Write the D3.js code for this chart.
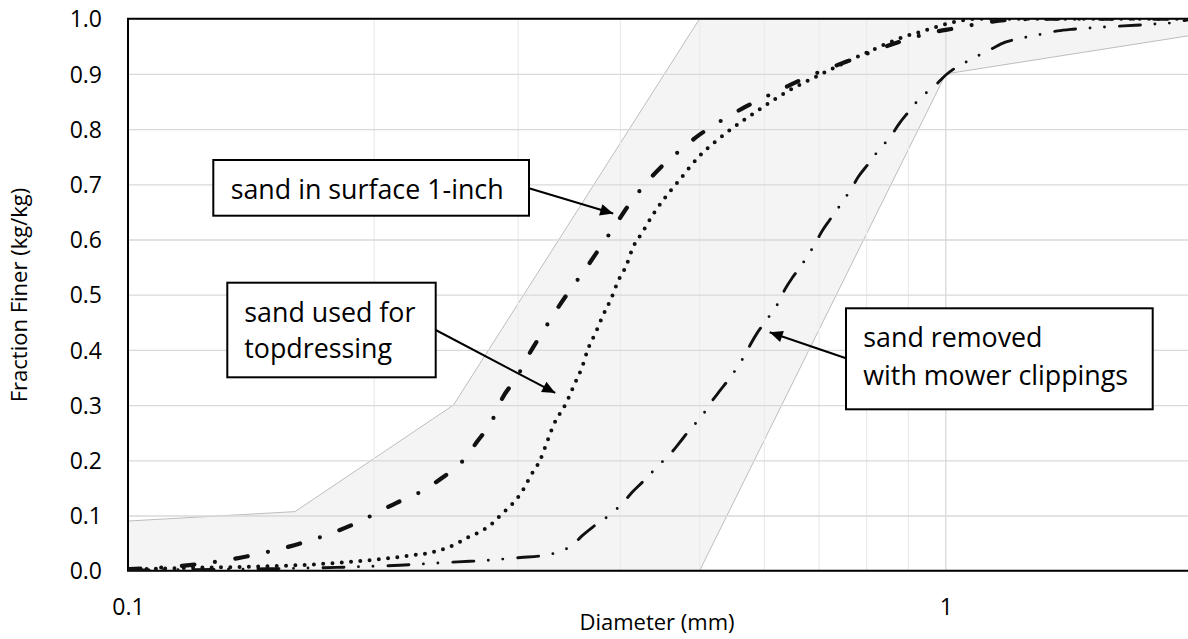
<!DOCTYPE html>
<html>
<head>
<meta charset="utf-8">
<script src="https://cdn.jsdelivr.net/npm/d3@7"></script>
<style>
  body { margin: 0; background: #fff; }
  svg text { font-family: "Open Sans", Lato, sans-serif; fill: #000; }
</style>
</head>
<body>
<div id="chart"></div>
<script>
// grain size curves, diameter (mm) vs fraction finer
var surfaceSand = [[0.1,0.003],[0.115,0.008],[0.133,0.020],[0.15,0.036],[0.163,0.050],[0.188,0.083],[0.213,0.123],
  [0.228,0.143],[0.242,0.168],[0.256,0.197],[0.267,0.233],[0.279,0.273],[0.287,0.313],[0.299,0.351],[0.309,0.391],
  [0.321,0.431],[0.333,0.469],[0.347,0.508],[0.362,0.545],[0.376,0.581],[0.392,0.620],[0.408,0.659],[0.426,0.695],
  [0.449,0.732],[0.472,0.760],[0.499,0.789],[0.531,0.815],[0.565,0.838],[0.601,0.858],[0.641,0.878],[0.686,0.898],
  [0.731,0.914],[0.780,0.930],[0.835,0.947],[0.891,0.961],[0.955,0.974],[1.03,0.983],[1.12,0.993],[1.2,0.998],
  [1.35,1.0],[2.0,1.0]];

var topdressSand = [[0.1,0.002],[0.117,0.005],[0.141,0.007],[0.162,0.010],[0.187,0.016],[0.212,0.024],[0.223,0.028],
  [0.235,0.033],[0.245,0.041],[0.253,0.050],[0.260,0.060],[0.270,0.071],[0.279,0.086],[0.287,0.104],[0.296,0.123],
  [0.304,0.146],[0.311,0.173],[0.319,0.200],[0.325,0.231],[0.331,0.262],[0.344,0.306],[0.352,0.340],[0.359,0.368],
  [0.365,0.401],[0.373,0.431],[0.381,0.463],[0.390,0.494],[0.397,0.523],[0.407,0.554],[0.414,0.584],[0.426,0.614],
  [0.438,0.644],[0.451,0.671],[0.469,0.702],[0.499,0.750],[0.541,0.795],[0.591,0.835],[0.645,0.871],[0.694,0.895],
  [0.744,0.917],[0.818,0.945],[0.88,0.965],[0.95,0.980],[1.03,0.995],[1.1,1.0],[2.0,1.0]];

var clippingSand = [[0.1,0.001],[0.14,0.003],[0.18,0.006],[0.215,0.010],[0.253,0.016],[0.277,0.019],[0.302,0.024],
  [0.32,0.027],[0.336,0.034],[0.350,0.047],[0.359,0.063],[0.370,0.079],[0.392,0.106],[0.404,0.125],[0.414,0.143],
  [0.426,0.161],[0.447,0.193],[0.460,0.211],[0.472,0.231],[0.483,0.250],[0.506,0.285],[0.517,0.306],[0.530,0.327],
  [0.543,0.347],[0.565,0.385],[0.576,0.408],[0.587,0.429],[0.600,0.449],[0.625,0.487],[0.636,0.510],[0.650,0.532],
  [0.665,0.552],[0.692,0.592],[0.705,0.614],[0.720,0.634],[0.737,0.655],[0.767,0.693],[0.782,0.714],[0.802,0.735],
  [0.821,0.755],[0.860,0.791],[0.877,0.810],[0.900,0.831],[0.922,0.850],[0.975,0.882],[1.0,0.898],[1.033,0.913],
  [1.07,0.925],[1.14,0.946],[1.18,0.957],[1.23,0.964],[1.29,0.970],[1.37,0.978],[1.43,0.981],[1.53,0.984],
  [1.65,0.987],[1.79,0.990],[1.9,0.993],[2.0,1.0]];

// grey specification band
var envelope = [[0.1,0],[0.1,0.09],[0.16,0.107],[0.25,0.30],[0.5,1.0],[2,1.0],[2,0.97],[1,0.9],[0.5,0]];

var yTicks = [0,0.1,0.2,0.3,0.4,0.5,0.6,0.7,0.8,0.9,1.0];
var xLabels = [0.1, 1];
var xMinor = [0.2,0.3,0.4,0.5,0.6,0.7,0.8,0.9,2];

var noteText = [["sand in surface 1-inch"], ["sand used for","topdressing"], ["sand removed","with mower clippings"]];
var noteTips = [[0.392,0.647],[0.333,0.322],[0.609,0.432]];

(function(){
var width = 1188, height = 639;
var pLeft = 128, pTop = 18.7, pBottom = 570.7, pRight = 1192;

var svg = d3.select("#chart").append("svg")
  .attr("width", width)
  .attr("height", height);

var x = d3.scaleLog().domain([0.1, 2]).range([pLeft, pRight]);
var y = d3.scaleLinear().domain([0, 1]).range([pBottom, pTop]);

var defs = svg.append("defs");
defs.append("clipPath").attr("id","plot")
  .append("rect").attr("x",pLeft).attr("y",pTop).attr("width",pRight-pLeft).attr("height",pBottom-pTop);

// band first, grid drawn over it
svg.append("path")
  .attr("d", d3.line().x(function(d){return x(d[0]);}).y(function(d){return y(d[1]);})(envelope) + "Z")
  .attr("fill", "#f4f4f4")
  .attr("stroke", "#bdbdbd")
  .attr("stroke-width", 1)
  .attr("clip-path","url(#plot)");

svg.append("g").selectAll("line").data(xMinor).enter().append("line")
  .attr("x1", function(d){return x(d);}).attr("x2", function(d){return x(d);})
  .attr("y1", pTop).attr("y2", pBottom)
  .attr("stroke", "#ececec").attr("stroke-width", 1.3);

svg.append("line")
  .attr("x1", x(1)).attr("x2", x(1)).attr("y1", pTop).attr("y2", pBottom)
  .attr("stroke", "#d9d9d9").attr("stroke-width", 1.3);

var yAxis = d3.axisLeft(y).tickValues(yTicks).tickSize(-(pRight-pLeft)).tickFormat(d3.format(".1f")).tickPadding(26);
var gy = svg.append("g").attr("transform","translate(" + pLeft + ",0)").call(yAxis);
gy.select(".domain").remove();
gy.selectAll(".tick line").attr("stroke","#d9d9d9").attr("stroke-width",1.3);
gy.selectAll(".tick text").attr("font-size", 23).attr("dy","0.36em");
gy.attr("font-family", null);

var xAxis = d3.axisBottom(x).tickValues(xLabels).tickSize(0).tickFormat(function(d){return String(d);}).tickPadding(0);
var gx = svg.append("g").attr("transform","translate(0," + pBottom + ")").call(xAxis);
gx.select(".domain").remove();
gx.attr("font-family", null);
gx.selectAll(".tick text").attr("font-size", 23).attr("dy", null).attr("y", 44);

// plot border
svg.append("path")
  .attr("d", "M" + pRight + "," + pTop + "H" + pLeft + "V" + pBottom + "H" + pRight)
  .attr("fill","none").attr("stroke","#000").attr("stroke-width",2);

var line = d3.line()
  .x(function(d){return x(d[0]);})
  .y(function(d){return y(d[1]);})
  .curve(d3.curveMonotoneX);

var plot = svg.append("g").attr("clip-path","url(#plot)");

plot.append("path").datum(clippingSand)
  .attr("d", line).attr("fill","none").attr("stroke","#111")
  .attr("stroke-width", 2.9).attr("stroke-linecap","round")
  .attr("stroke-dasharray","21 14.5 0 14.5 0 15");

plot.append("path").datum(topdressSand)
  .attr("d", line).attr("fill","none").attr("stroke","#111")
  .attr("stroke-width", 4).attr("stroke-linecap","round")
  .attr("stroke-dasharray","0 9.3");

plot.append("path").datum(surfaceSand)
  .attr("d", line).attr("fill","none").attr("stroke","#111")
  .attr("stroke-width", 4.2).attr("stroke-linecap","round")
  .attr("stroke-dasharray","12.5 20.75 0 20.75");

// callouts
var boxes = [
  {x:213.3, y:160, w:315.7, h:55.7, tx:230.7, ty:[198.5], ax:529, ay:188.3},
  {x:227.3, y:282.7, w:208.4, h:94.6, tx:244.3, ty:[321.5,358], ax:435.7, ay:330},
  {x:846, y:308.3, w:306.7, h:101, tx:863.3, ty:[346.7,385], ax:846, ay:358.3}
];

defs.append("marker").attr("id","head")
  .attr("viewBox","0 0 10 10").attr("refX",10).attr("refY",5)
  .attr("markerWidth",16).attr("markerHeight",13).attr("markerUnits","userSpaceOnUse")
  .attr("orient","auto")
  .append("path").attr("d","M0,0.5L10,5L0,9.5Z").attr("fill","#000");

boxes.forEach(function(b, i){
  var tip = noteTips[i];
  svg.append("line")
    .attr("x1", b.ax).attr("y1", b.ay).attr("x2", x(tip[0])).attr("y2", y(tip[1]))
    .attr("stroke","#000").attr("stroke-width",2).attr("marker-end","url(#head)");
  svg.append("rect").attr("x",b.x).attr("y",b.y).attr("width",b.w).attr("height",b.h)
    .attr("fill","#fff").attr("stroke","#000").attr("stroke-width",2);
  noteText[i].forEach(function(t, j){
    svg.append("text").attr("x", b.tx).attr("y", b.ty[j]).attr("font-size", 26.8).text(t);
  });
});

svg.append("text")
  .attr("transform","translate(27,295) rotate(-90)")
  .attr("text-anchor","middle").attr("font-size",22)
  .text("Fraction Finer (kg/kg)");

svg.append("text")
  .attr("x", 657).attr("y", 630)
  .attr("text-anchor","middle").attr("font-size",22)
  .text("Diameter (mm)");
})();
</script>
</body>
</html>
